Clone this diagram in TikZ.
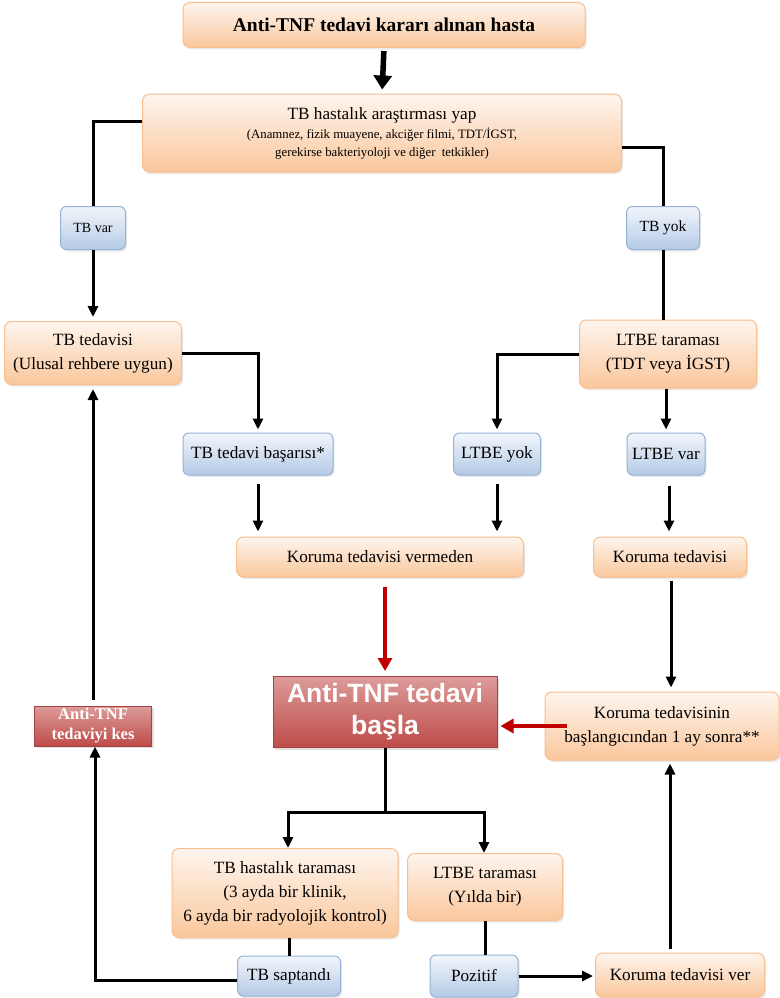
\documentclass[tikz,border=0pt]{standalone}
\usepackage{fontspec}
\setmainfont{Liberation Serif}
\newfontfamily\headsans{Liberation Sans}
\usepackage{tikz}
\usetikzlibrary{arrows.meta,shadows}

\definecolor{orline}{HTML}{F9BF8F}
\definecolor{ortop}{HTML}{FEF5EE}
\definecolor{orbot}{HTML}{FAC79C}
\definecolor{blline}{HTML}{95B3D7}
\definecolor{bltop}{HTML}{F2F6FB}
\definecolor{blbot}{HTML}{B5CAE6}
\definecolor{rdline}{HTML}{A6423F}
\definecolor{rdtop}{HTML}{DC9C9A}
\definecolor{rdbot}{HTML}{BE4B48}
\definecolor{arred}{HTML}{C00000}

\tikzset{
    orbox/.style={draw=orline, line width=1pt, rounded corners=7pt, top color=ortop, bottom color=orbot,
        align=center, inner sep=2pt, font=\fontsize{17.2}{24}\selectfont,
        drop shadow={opacity=0.18, shadow xshift=1.5pt, shadow yshift=-2pt}},
    blbox/.style={draw=blline, line width=1pt, rounded corners=6pt, top color=bltop, bottom color=blbot,
        align=center, inner sep=2pt, font=\fontsize{17.2}{20}\selectfont,
        drop shadow={opacity=0.18, shadow xshift=1.5pt, shadow yshift=-2pt}},
    rdbox/.style={draw=rdline, line width=1pt, top color=rdtop, bottom color=rdbot, text=white, align=center,
        inner sep=1pt, drop shadow={opacity=0.25, shadow xshift=2pt, shadow yshift=-2pt}},
    link/.style={line width=3pt, ->},
    plain/.style={line width=3pt},
    redlink/.style={line width=3.5pt, draw=arred, -{Triangle[length=13pt,width=14pt]}},
}

\begin{document}
\begin{tikzpicture}[x=1pt, y=-1pt, >={Triangle[length=11pt,width=10pt]}]
        \useasboundingbox (0,0) rectangle (779,998);
        \node[orbox, minimum width=402pt, minimum height=45pt, font=\fontsize{19.5}{22}\selectfont\bfseries] (hasta) at (384,25) {Anti-TNF tedavi kararı alınan hasta};
        \node[orbox, minimum width=479pt, minimum height=78pt] (arastir) at (382,133) {TB hastalık araştırması yap\\[-5pt]{\fontsize{12.8}{16}\selectfont (Anamnez, fizik muayene, akciğer filmi, TDT/İGST,}\\[-6pt]{\fontsize{12.8}{16}\selectfont gerekirse bakteriyoloji ve diğer\ \ tetkikler)}};
        \node[blbox, minimum width=65pt, minimum height=43pt, font=\fontsize{14}{17}\selectfont] (tbvar) at (93,228) {TB var};
        \node[blbox, minimum width=73pt, minimum height=43pt, font=\fontsize{15.5}{17}\selectfont] (tbyok) at (663,228) {TB yok};
        \node[orbox, minimum width=177pt, minimum height=63pt] (tbted) at (93,353) {TB tedavisi\\(Ulusal rehbere uygun)};
        \node[orbox, minimum width=177pt, minimum height=68pt] (ltbe) at (668,354) {LTBE taraması\\(TDT veya İGST)};
        \node[blbox, minimum width=150pt, minimum height=42pt] (basari) at (258,454) {TB tedavi başarısı*};
        \node[blbox, minimum width=87pt, minimum height=42pt] (ltbeyok) at (497,454) {LTBE yok};
        \node[blbox, minimum width=78pt, minimum height=42pt] (ltbevar) at (666,454) {LTBE var};
        \node[orbox, minimum width=287pt, minimum height=40pt] (vermeden) at (380,557) {Koruma tedavisi vermeden};
        \node[orbox, minimum width=153pt, minimum height=40pt] (koruma) at (670,557) {Koruma tedavisi};
        \node[rdbox, minimum width=224pt, minimum height=71pt, font=\fontsize{26.5}{32}\selectfont\headsans\bfseries] (basla) at (385,712) {Anti-TNF tedavi\\başla};
        \node[orbox, minimum width=234pt, minimum height=68pt] (biray) at (662,726) {Koruma tedavisinin\\başlangıcından 1 ay sonra**};
        \node[rdbox, minimum width=117pt, minimum height=40pt, font=\fontsize{16.5}{20}\selectfont\bfseries] (kes) at (93,726) {Anti-TNF\\tedaviyi kes};
        \node[orbox, minimum width=226pt, minimum height=89pt] (tarama) at (285,893) {TB hastalık taraması\\(3 ayda bir klinik,\\6 ayda bir radyolojik kontrol)};
        \node[orbox, minimum width=155pt, minimum height=67pt] (yilda) at (485,887) {LTBE taraması\\(Yılda bir)};
        \node[blbox, minimum width=103pt, minimum height=40pt] (saptandi) at (289,976) {TB saptandı};
        \node[blbox, minimum width=88pt, minimum height=42pt] (pozitif) at (474,976) {Pozitif};
        \node[orbox, minimum width=169pt, minimum height=44pt] (ver) at (680,975) {Koruma tedavisi ver};
        \coordinate (split) at (385,812);
        \draw[line width=5.5pt, -{Triangle[length=14pt,width=18pt]}, shorten <=3pt, shorten >=4pt] (hasta.south) -- (arastir.north);
        \draw[plain] ([yshift=12pt]arastir.west) -| (tbvar.north);
        \draw[link, shorten >=4pt] (tbvar.south) -- (tbted.north);
        \draw[plain] ([yshift=-14pt]arastir.east) -| (tbyok.north);
        \draw[plain] (tbyok.south) -- (tbyok.south |- ltbe.north);
        \draw[link, shorten >=3pt] (tbted.east) -| (basari.north);
        \draw[link, shorten >=3pt] (ltbe.west) -| (ltbeyok.north);
        \draw[link, shorten >=3pt] (ltbevar.north |- ltbe.south) -- (ltbevar.north);
        \draw[link, shorten <=8pt, shorten >=5pt] (basari.south) -- (basari.south |- vermeden.north);
        \draw[link, shorten <=8pt, shorten >=5pt] (ltbeyok.south) -- (ltbeyok.south |- vermeden.north);
        \draw[link, shorten <=10pt, shorten >=5pt] ([xshift=3pt]ltbevar.south) -- ([xshift=3pt]ltbevar.south |- koruma.north);
        \draw[redlink, shorten <=9pt, shorten >=5pt] (vermeden.south -| basla.north) -- (basla.north);
        \draw[link, shorten <=3pt, shorten >=4pt] (koruma.south -| 671,0) -- (biray.north -| 671,0);
        \draw[redlink, shorten >=3pt] ([xshift=22pt]biray.west) -- (basla.east |- biray.west);
        \draw[link, shorten <=6pt, shorten >=4pt] (kes.north) -- (tbted.south);
        \draw[plain] (basla.south) -- (split);
        \draw[link] (split) -| ([xshift=3pt]tarama.north);
        \draw[link] (split) -| ([xshift=-1pt]yilda.north);
        \draw[plain] ([xshift=4pt]tarama.south) -- ([xshift=4pt]tarama.south |- saptandi.north);
        \draw[link] ([yshift=-4pt]saptandi.west) -| ([xshift=2pt]kes.south);
        \draw[plain] (yilda.south) -- (yilda.south |- pozitif.north);
        \draw[link, shorten >=2pt] (pozitif.east) -- (ver.west |- pozitif.east);
        \draw[link, shorten <=4pt, shorten >=3pt] (ver.north -| 670,0) -- (biray.south -| 670,0);
    \end{tikzpicture}
\end{document}
